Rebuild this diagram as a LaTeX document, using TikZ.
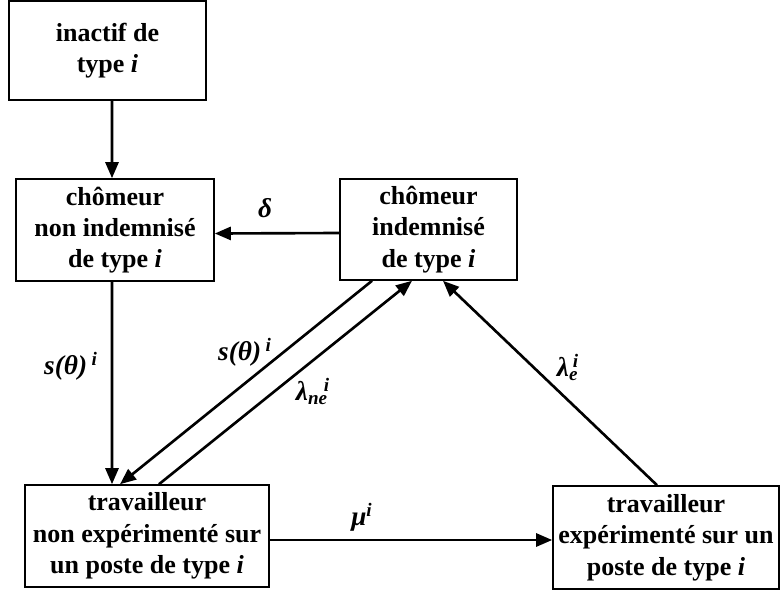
\documentclass[tikz,border=0pt]{standalone}
\usepackage{fontspec}
\setmainfont{Liberation Serif}
\usetikzlibrary{arrows.meta}

\begin{document}
\begin{tikzpicture}[
  etat/.style={draw, line width=0.9pt, align=center, inner sep=0pt,
    font=\fontsize{14.8}{17.8}\selectfont\bfseries},
  taux/.style={font=\fontsize{15.5}{18}\selectfont\bfseries\itshape},
  fleche/.style={line width=1.5pt, -{Triangle[length=0.32cm,width=0.26cm]}}
]
\useasboundingbox (0,0) rectangle (15.62,11.88);
% etats
\node[etat, minimum width=3.94cm, minimum height=1.98cm] (inactif) at (2.15,10.87) {inactif de\\type \textit{i}};
\node[etat, minimum width=3.96cm, minimum height=2.04cm] (chomNI) at (2.30,7.28) {chômeur\\non indemnisé\\de type \textit{i}};
\node[etat, minimum width=3.54cm, minimum height=2.02cm] (chomI) at (8.57,7.29) {chômeur\\indemnisé\\de type \textit{i}};
\node[etat, minimum width=4.88cm, minimum height=2.04cm] (travNE) at (2.94,1.16) {travailleur\\non expérimenté sur\\un poste de type \textit{i}};
\node[etat, minimum width=4.52cm, minimum height=2.06cm] (travE) at (13.32,1.13) {travailleur\\expérimenté sur un\\poste de type \textit{i}};
% transitions
\draw[fleche] ([xshift=0.09cm]inactif.south) -- ([xshift=-0.06cm]chomNI.north);
\draw[fleche] ([yshift=-0.07cm]chomI.west) -- ([yshift=-0.07cm]chomNI.east);
\draw[fleche] ([xshift=-0.06cm]chomNI.south) -- ([xshift=-0.7cm]travNE.north);
\draw[fleche] ([xshift=-1.13cm]chomI.south) -- ([xshift=-0.54cm]travNE.north);
\draw[fleche] ([xshift=0.24cm]travNE.north) -- ([xshift=-0.33cm]chomI.south);
\draw[fleche] ([xshift=-0.18cm]travE.north) -- ([xshift=0.29cm]chomI.south);
\draw[fleche] ([yshift=-0.08cm]travNE.east) -- ([yshift=-0.05cm]travE.west);
% taux
\node[taux] (tdelta) at (5.30,7.72) {δ};
\node[taux] (ts1) at (1.42,4.56) {s(θ)\,\textsuperscript{i}};
\node[taux] (ts2) at (4.90,4.84) {s(θ)\,\textsuperscript{i}};
\node[taux] (tne) at (6.26,4.06) {λ\textsubscript{ne}\kern-0.15em\textsuperscript{i}};
\node[taux] (te) at (11.36,4.54) {λ\textsubscript{e}\kern-0.2em\textsuperscript{i}};
\node[taux] (tmu) at (7.24,1.54) {μ\textsuperscript{i}};
\end{tikzpicture}
\end{document}
